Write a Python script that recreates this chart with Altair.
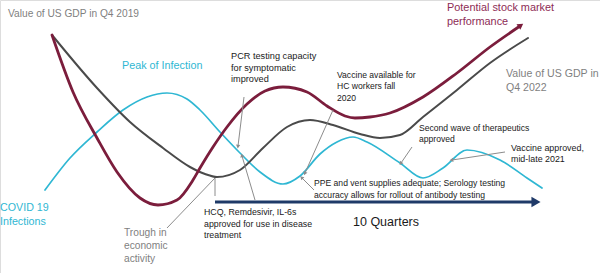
import math
import altair as alt
import pandas as pd

# --- curve shapes (x across the 10-quarter span, y measured downward from the top) ---
stock_x = [52, 73, 97, 117, 140, 158, 177, 193, 200, 213, 227, 247, 265, 283, 307, 327, 345, 355, 370, 390, 423, 457, 490, 520]
stock_y = [35, 92, 138, 172, 198, 205, 200, 180, 168, 147, 127, 104, 91, 87, 92, 106, 116, 118, 117, 113, 97, 73, 47, 26]

gdp_x = [52, 97, 130, 163, 190, 205, 217, 240, 263, 287, 310, 333, 360, 380, 400, 423, 457, 490, 528]
gdp_y = [35, 88, 122, 148, 167, 174, 177, 170, 148, 127, 120, 125, 134, 138, 135, 117, 90, 63, 38]

inf_x = [45, 70, 97, 123, 147, 167, 187, 200, 220, 240, 260, 283, 300, 320, 337, 353, 367, 400, 423, 443, 467, 500, 527, 542]
inf_y = [190, 158, 132, 110, 97, 93, 99, 110, 132, 153, 172, 184, 176, 154, 142, 137, 142, 163, 178, 168, 150, 160, 178, 188]

# time arrow (10 quarters)
axis_start = (215, 202)
axis_end = (534, 202)

# callout leader lines: (from x, from y, to x, to y, arrowhead at end)
leaders = [
    (167, 228, 215, 178, False),
    (215, 196, 215, 178, False),
    (244, 97, 238, 146, True),
    (255, 200, 242, 156, True),
    (333, 110, 305, 173, True),
    (314, 190, 302, 178, True),
    (412, 147, 401, 163, True),
    (505, 152, 452, 160, True),
]

GREY_TXT = "#7f7f7f"
TEAL = "#2fb7d3"
MAROON = "#7b1d3c"
MAROON_TXT = "#8e2c55"
DARK = "#4a4a4a"
INK = "#1a1a1a"
NAVY = "#1f3a68"

# text blocks: lines, x, y of first line centre, line step, font size, colour
labels = [
    (["Value of US GDP in Q4 2019"], 8, 14, 13, 10.2, GREY_TXT),
    (["Peak of Infection"], 122, 66, 13, 10.8, TEAL),
    (["PCR testing capacity", "for  symptomatic", "improved"], 231, 56, 11.5, 9.2, INK),
    (["Vaccine available for", "HC  workers fall", "2020"], 337, 75, 11.3, 8.6, INK),
    (["Potential stock market", "performance"], 447, 8, 14, 10.9, MAROON_TXT),
    (["Value of US GDP in", "Q4 2022"], 506, 74, 13.5, 10.6, GREY_TXT),
    (["Second wave of therapeutics", "approved"], 419, 128, 11, 8.6, INK),
    (["Vaccine approved,", "mid-late 2021"], 511, 148, 11, 8.9, INK),
    (["PPE and vent supplies adequate; Serology testing",
      "accuracy allows for rollout of antibody testing"], 314, 183, 11.5, 8.6, INK),
    (["10 Quarters"], 353, 222, 14, 12.5, INK),
    (["HCQ, Remdesivir, IL-6s", "approved for use in disease", "treatment"], 204, 212, 11.5, 8.8, INK),
    (["Trough in", "economic", "activity"], 124, 233, 13, 10.2, GREY_TXT),
    (["COVID 19", "Infections"], 0, 208, 13.5, 10.7, TEAL),
]

FONT = "Liberation Sans"
xs = alt.Scale(domain=[0, 600])
ys = alt.Scale(domain=[0, 273], reverse=True)


def heading(x1, y1, x2, y2):
    # rotation for a triangle-up glyph so that it points from (x1,y1) toward (x2,y2)
    return math.degrees(math.atan2(x2 - x1, -(y2 - y1))) % 360


def curve(xv, yv, color, width):
    df = pd.DataFrame({"x": xv, "y": yv})
    return alt.Chart(df).mark_line(
        color=color, strokeWidth=width, interpolate="monotone", strokeCap="round"
    ).encode(x=alt.X("x:Q", scale=xs, axis=None), y=alt.Y("y:Q", scale=ys, axis=None))


layers = []
layers.append(curve(inf_x, inf_y, TEAL, 1.7))
layers.append(curve(gdp_x, gdp_y, DARK, 2.0))
layers.append(curve(stock_x, stock_y, MAROON, 2.8))

# arrowhead at the end of the stock curve
tip = pd.DataFrame({"x": [stock_x[-1]], "y": [stock_y[-1]],
                    "a": [heading(stock_x[-2], stock_y[-2], stock_x[-1], stock_y[-1])]})
layers.append(alt.Chart(tip).mark_point(shape="triangle", filled=True, size=45, color=MAROON, opacity=1)
              .encode(x=alt.X("x:Q", scale=xs), y=alt.Y("y:Q", scale=ys), angle=alt.Angle("a:Q", scale=None)))

# time axis arrow
ax = pd.DataFrame({"x": [axis_start[0]], "y": [axis_start[1]], "x2": [axis_end[0]], "y2": [axis_end[1]]})
layers.append(alt.Chart(ax).mark_rule(color=NAVY, strokeWidth=3)
              .encode(x=alt.X("x:Q", scale=xs), y=alt.Y("y:Q", scale=ys), x2="x2:Q", y2="y2:Q"))
axh = pd.DataFrame({"x": [axis_end[0] + 2], "y": [axis_end[1]]})
layers.append(alt.Chart(axh).mark_point(shape="triangle-right", filled=True, size=110, color=NAVY, opacity=1)
              .encode(x=alt.X("x:Q", scale=xs), y=alt.Y("y:Q", scale=ys)))

# callout leaders
ld = pd.DataFrame([{"x": a, "y": b, "x2": c, "y2": d} for a, b, c, d, _ in leaders])
layers.append(alt.Chart(ld).mark_rule(color="#8c8c8c", strokeWidth=1)
              .encode(x=alt.X("x:Q", scale=xs), y=alt.Y("y:Q", scale=ys), x2="x2:Q", y2="y2:Q"))
heads = pd.DataFrame([{"x": c, "y": d, "a": heading(a, b, c, d)} for a, b, c, d, h in leaders if h])
layers.append(alt.Chart(heads).mark_point(shape="triangle", filled=True, size=18, color="#8c8c8c", opacity=1)
              .encode(x=alt.X("x:Q", scale=xs), y=alt.Y("y:Q", scale=ys), angle=alt.Angle("a:Q", scale=None)))

# text blocks
rows = []
for lines, x, y, step, size, color in labels:
    for i, t in enumerate(lines):
        rows.append({"x": x, "y": y + i * step, "t": t, "s": size, "c": color})
tx = pd.DataFrame(rows)
layers.append(alt.Chart(tx).mark_text(align="left", baseline="middle", font=FONT)
              .encode(x=alt.X("x:Q", scale=xs), y=alt.Y("y:Q", scale=ys), text="t:N",
                      size=alt.Size("s:Q", scale=None), color=alt.Color("c:N", scale=None)))

chart = alt.layer(*layers).properties(
    width=600, height=273, padding=0, autosize=alt.AutoSizeParams(type="none")
).configure_view(stroke=None).configure(background="white")

chart.save("out.html", embed_options={"renderer": "svg", "actions": False})
